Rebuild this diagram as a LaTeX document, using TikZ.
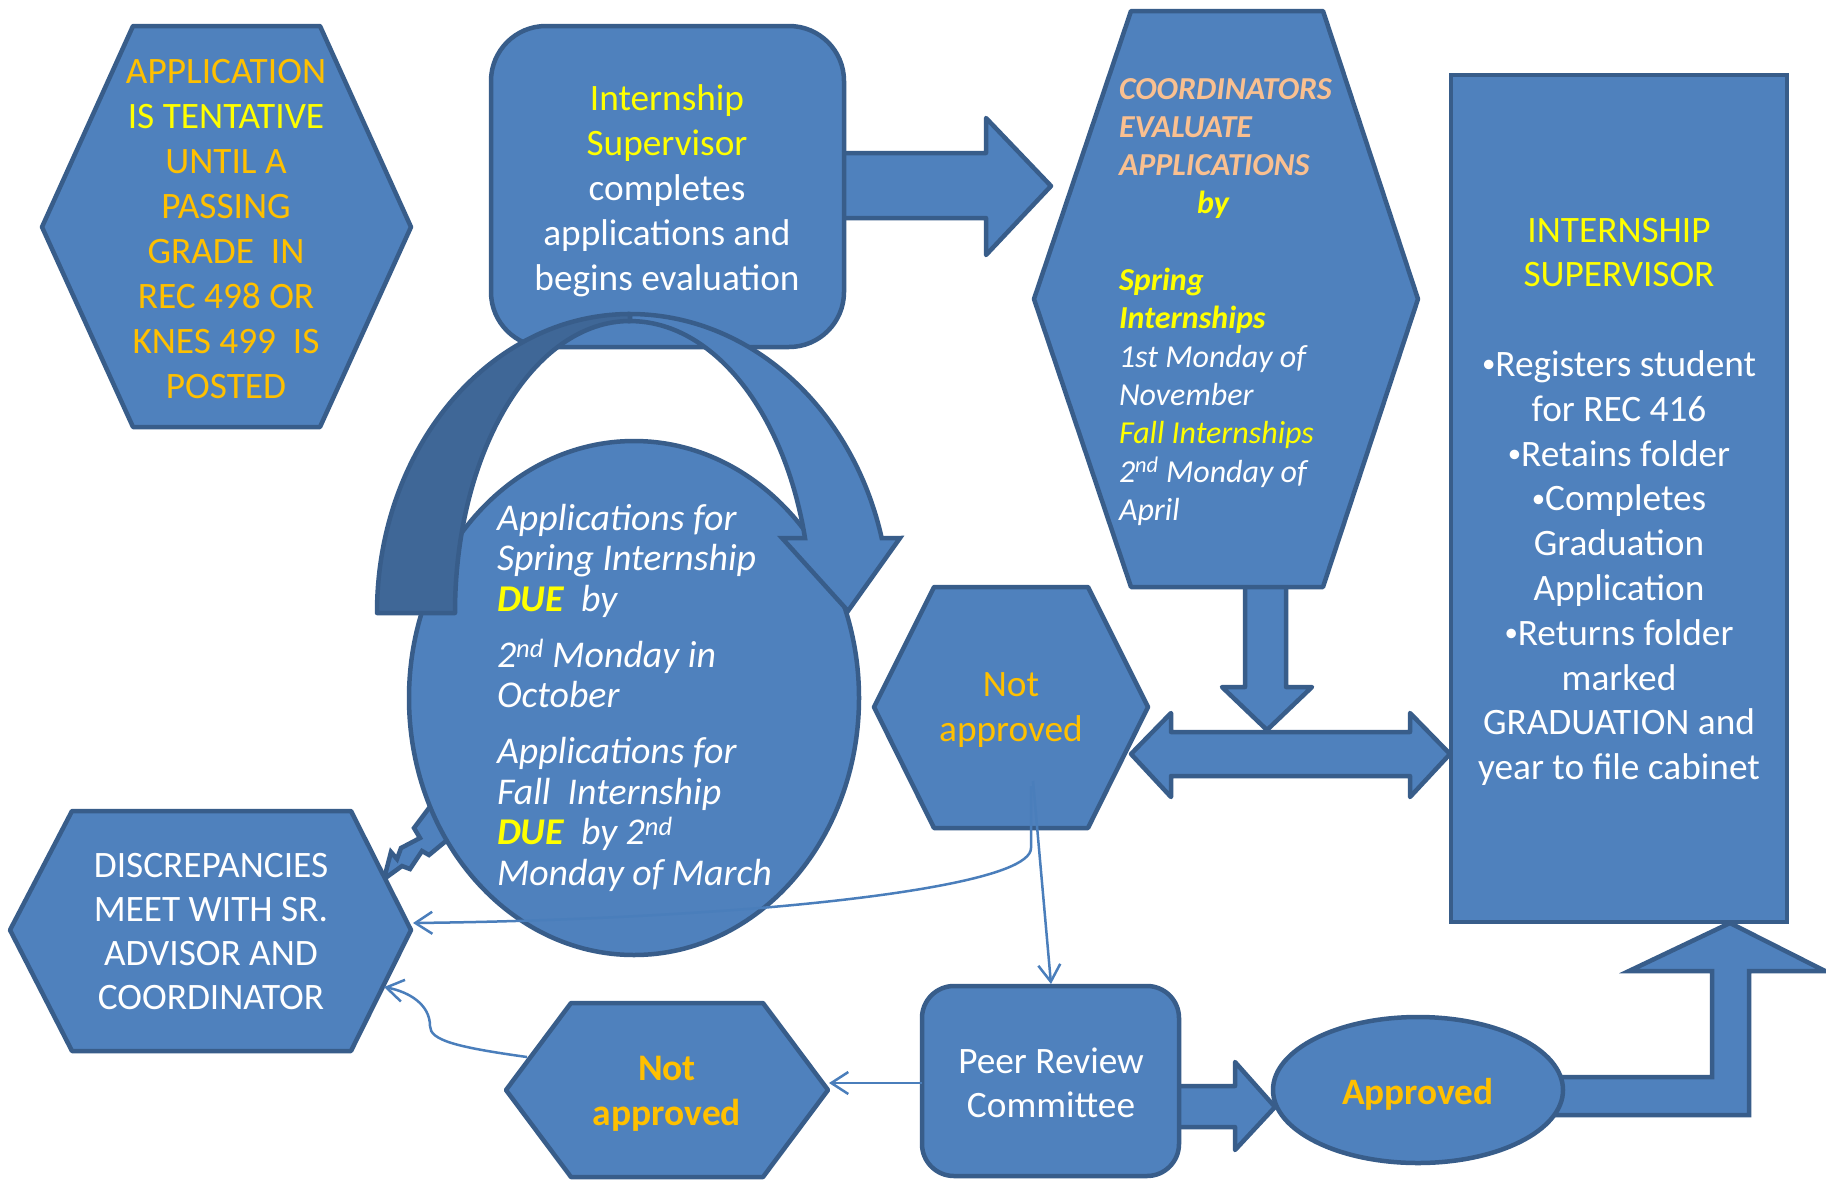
\documentclass[tikz,border=0pt]{standalone}
\usepackage{fontspec}
\usepackage{graphicx}
\setmainfont{Carlito}
\usetikzlibrary{arrows.meta}
\definecolor{fillblue}{HTML}{4F81BD}
\definecolor{edgeblue}{HTML}{385D8A}
\definecolor{darkband}{HTML}{3F6797}
\definecolor{linkblue}{HTML}{4A7EBB}
\definecolor{txtorange}{HTML}{FFC000}
\definecolor{txtyellow}{HTML}{FFFF00}
\definecolor{txtpeach}{HTML}{FAC090}
\newcommand{\mylines}[2]{\begin{tabular}[t]{@{}#1@{}}#2\end{tabular}}
\newcommand{\yel}[1]{\textcolor{txtyellow}{#1}}
\newcommand{\org}[1]{\textcolor{txtorange}{#1}}
\newcommand{\pch}[1]{\textcolor{txtpeach}{#1}}
\newcommand{\bul}{\raisebox{0.1em}{\scalebox{0.72}{\textbullet}}}
\tikzset{
  shapebox/.style={fill=fillblue, draw=edgeblue, line width=4.5pt, line join=round},
  bandback/.style={fill=darkband, draw=edgeblue, line width=4.5pt, line join=round},
  txt/.style={inner sep=0pt, outer sep=0pt, anchor=base, text=white},
  txtl/.style={txt, anchor=base west},
  link/.style={draw=linkblue, line width=2.5pt, -{Straight Barb[length=17pt,width=22pt]}},
}
\begin{document}
\begin{tikzpicture}[x=1pt,y=-1pt]
\fill[white] (0,0) rectangle (1826,1179);
\useasboundingbox (0,0) rectangle (1826,1179);

% ---- tentative hexagon
\path[shapebox] (133,26) -- (320,26) -- (411,227) -- (320,427) -- (133,427) -- (42,227) -- cycle;
\node[txt, font=\fontsize{37.3}{45}\selectfont, text=txtorange] (tentative) at (226,83)
  {\mylines{c}{APPLICATION\\ \yel{IS TENTATIVE}\\ UNTIL A\\ PASSING\\ GRADE\ \ IN\\ REC 498 OR\\ KNES 499\ \ IS\\ POSTED}};

% ---- supervisor box and arrow to coordinators
\path[shapebox] (840,153) -- (986,153) -- (986,118) -- (1051,186) -- (986,255) -- (986,218) -- (840,218) -- cycle;
\path[shapebox, rounded corners=55pt] (491,26) rectangle (844,347);
\node[txt, font=\fontsize{37.3}{45}\selectfont] (supervisor) at (667,110)
  {\mylines{c}{\yel{Internship}\\ \yel{Supervisor}\\ completes\\ applications and\\ begins evaluation}};

% ---- coordinators hexagon with down arrow
\path[shapebox] (1245,580) -- (1286,580) -- (1286,687) -- (1312,687) -- (1267,730) -- (1222,687) -- (1245,687) -- cycle;
\path[shapebox] (1131,11) -- (1323,11) -- (1418,299) -- (1323,587) -- (1131,587) -- (1034,299) -- cycle;
\node[txtl, font=\fontsize{32}{38.3}\selectfont\itshape] (coordinators) at (1119,99)
  {\mylines{l}{\textbf{\pch{COORDINATORS}}\\ \textbf{\pch{EVALUATE}}\\ \textbf{\pch{APPLICATIONS}}\\ \hspace{78pt}\textbf{\yel{by}}\\ \\ \textbf{\yel{Spring}}\\ \textbf{\yel{Internships}}\\ 1st Monday of\\ November\\ \yel{Fall Internships}\\ 2\textsuperscript{nd} Monday of\\ April}};

% ---- double arrow
\path[shapebox] (1131,754) -- (1171,713) -- (1171,732) -- (1410,732) -- (1410,713) -- (1450,754) -- (1410,797) -- (1410,776) -- (1171,776) -- (1171,797) -- cycle;

% ---- internship supervisor rectangle
\path[shapebox, line join=miter] (1451,75) rectangle (1787,922);
\node[txt, font=\fontsize{37.3}{44.8}\selectfont] (registrar) at (1619,242)
  {\mylines{c}{\yel{INTERNSHIP}\\ \yel{SUPERVISOR}\\ \\ \bul Registers student\\ for REC 416\\ \bul Retains folder\\ \bul Completes\\ Graduation\\ Application\\ \bul Returns folder\\ marked\\ GRADUATION and\\ year to file cabinet}};

% ---- not approved (middle)
\path[shapebox] (934,587) -- (1088,587) -- (1148,707) -- (1088,828) -- (934,828) -- (874,707) -- cycle;
\node[txt, font=\fontsize{37.3}{45}\selectfont, text=txtorange] (notapp1) at (1011,696)
  {\mylines{c}{Not\\ approved}};

% ---- lightning bolt
\path[shapebox, line join=miter] (432,804) -- (414,828) -- (420,838) -- (401,848) -- (397,859) -- (391,852) -- (384,879) -- (402,866) -- (410,869) -- (422,851) -- (429,855) -- (452,836) -- cycle;

% ---- due-dates circle
\path[shapebox] (634,698) ellipse[x radius=225, y radius=257];
\node[txtl, font=\fontsize{37.8}{40.5}\selectfont\itshape] (duedates) at (497,530)
  {\mylines{l}{Applications for\\ Spring Internship\\ \textbf{\yel{DUE}}\ \ by\\[15.5pt] 2\textsuperscript{nd} Monday in\\ October\\[15.5pt] Applications for\\ Fall\ \ Internship\\ \textbf{\yel{DUE}}\ \ by 2\textsuperscript{nd}\\ Monday of March}};

% ---- curved arrow
\path[bandback] (377,613) arc[start angle=180, end angle=270, x radius=253, y radius=299]
  -- (630,321) arc[start angle=270, end angle=180, x radius=175, y radius=292] -- cycle;
\path[shapebox, line join=miter] (630,314) arc[start angle=270, end angle=345.5, x radius=260, y radius=299]
  -- (900,538) -- (848,611) -- (782,538) -- (805,538)
  arc[start angle=345.1, end angle=270, x radius=181, y radius=292] -- cycle;

% ---- discrepancies hexagon
\path[shapebox] (72,811) -- (351,811) -- (411,930) -- (351,1051) -- (72,1051) -- (10,930) -- cycle;
\node[txt, font=\fontsize{37.3}{44.3}\selectfont] (discrepancies) at (211,877)
  {\mylines{c}{DISCREPANCIES\\ MEET WITH SR.\\ ADVISOR AND\\ COORDINATOR}};

% ---- not approved (bottom)
\path[shapebox] (571,1003) -- (763,1003) -- (828,1090) -- (763,1177) -- (571,1177) -- (506,1090) -- cycle;
\node[txt, font=\fontsize{37.5}{45}\selectfont\bfseries, text=txtorange] (notapp2) at (667,1080)
  {\mylines{c}{Not\\ approved}};

% ---- peer review, approved, arrows
\path[shapebox] (1175,1086) -- (1235,1086) -- (1235,1062) -- (1275,1107) -- (1235,1150) -- (1235,1127) -- (1175,1127) -- cycle;
\path[shapebox, rounded corners=32pt] (922,986) rectangle (1179,1176);
\node[txt, font=\fontsize{37.3}{44}\selectfont] (peer) at (1051,1073)
  {\mylines{c}{Peer Review\\ Committee}};
\path[shapebox, line join=miter] (1550,1077) -- (1712,1077) -- (1712,971) -- (1629,971) -- (1730,923) -- (1825,971) -- (1749,971) -- (1749,1115) -- (1550,1115) -- cycle;
\path[shapebox] (1418,1090) ellipse[x radius=145, y radius=73];
\node[txt, font=\fontsize{37.3}{45}\selectfont\bfseries, text=txtorange] (approved) at (1418,1104) {Approved};

% ---- connectors
\coordinate (napOne) at (1033,781);
\coordinate (napOneB) at (1031,786);
\coordinate (peerTop) at (1051,984);
\coordinate (peerWest) at (922,1083);
\coordinate (napTwoEast) at (829,1083);
\coordinate (napTwoEdge) at (527,1057);
\coordinate (discEast) at (413,923);
\coordinate (discSE) at (384,987);
\draw[link] (napOne) -- (peerTop);
\draw[link] (napOneB) -- (1031,848) .. controls (1031,878) and (880,898) .. (760,908) .. controls (620,919) and (500,922) .. (discEast);
\draw[link] (peerWest) -- (napTwoEast);
\draw[link] (napTwoEdge) .. controls (455,1047) and (430,1040) .. (430,1026) .. controls (430,1005) and (410,992) .. (discSE);
\end{tikzpicture}
\end{document}
